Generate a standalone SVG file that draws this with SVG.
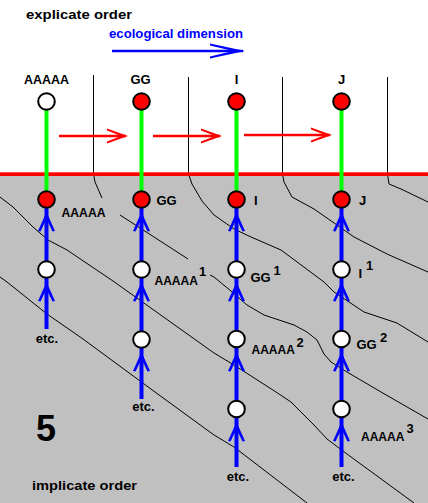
<svg xmlns="http://www.w3.org/2000/svg" width="428" height="503" viewBox="0 0 428 503">
<style>
.t{font-family:"Liberation Sans",Arial,Helvetica,sans-serif;font-weight:bold;font-size:13px;fill:#000}
.a{font-size:12px}
.c{stroke:#000;stroke-width:2}
.w{fill:#fff}
.r{fill:#ff0000}
.k{fill:none;stroke:#000;stroke-width:1}
.g{stroke:#00ff00;stroke-width:4}
.b{stroke:#0000ff;stroke-width:4}
.rs{stroke:#ff0000;stroke-width:2.5}
.bs{stroke:#0000ff;stroke-width:2.5}
</style>
<defs>
<path id="bh" d="M0,0 L8.5,19 L6,19.5 L0,7 L-6,19.5 L-8.5,19 Z" fill="#0000ff"/>
<path id="rh" d="M0,0 L-21,-7.5 L-21,-5.5 L-7,0 L-21,5.5 L-21,7.5 Z" fill="#ff0000"/>
<path id="bt" d="M0,0 L-35,-7.5 L-35,-5.5 L-12,0 L-35,5.5 L-35,7.5 Z" fill="#0000ff"/>
</defs>

<rect x="0" y="0" width="428" height="503" fill="#fff"/>
<rect x="0" y="174" width="428" height="329" fill="#c0c0c0"/>

<g id="contours">
<path class="k" d="M93.5,75 V174 L95,182 L102,198"/>
<path class="k" d="M120,215 L188,259"/>
<path class="k" d="M210,275 L214,277 L231,291 L247,305 L264,315 L294,325 L307,332 L317,340 L324,354 L331,362 L347,372 L381,392 L428,419"/>
<path class="k" d="M188.5,77 V174 L192,184 L202,201 L214,215 L234,229 L251,237 L281,250 L324,282 L334,292 L364,312 L397,323 L428,342"/>
<path class="k" d="M282.5,77 V174 L284,182 L292,197 L314,209 L337,225 L354,237 L387,254 L428,272"/>
<path class="k" d="M387.5,77 V174 L389,184 L401,189 L428,202"/>
<path class="k" d="M0,197 L13,207 L33,227 L48,240 L67,250 L113,281 L214,353 L234,365 L276,392 L291,402 L314,425 L327,439 L347,454 L414,503"/>
<path class="k" d="M0,277 L7,282 L47,314 L83,339 L155,392 L214,435 L234,447 L307,503"/>
</g>

<rect x="0" y="172.3" width="428" height="3.7" fill="#ff0000"/>

<g id="labels">
<text class="t" x="26" y="19" font-size="14" textLength="106" lengthAdjust="spacingAndGlyphs">explicate order</text>
<text class="t" x="109" y="38" style="fill:#0000ff" textLength="134" lengthAdjust="spacingAndGlyphs">ecological dimension</text>
<text class="t" x="36" y="441" style="font-size:36px">5</text>
<text class="t" x="32" y="490" font-size="14" textLength="105" lengthAdjust="spacingAndGlyphs">implicate order</text>
</g>

<g id="connectors">
<line class="g" x1="46.5" y1="101.5" x2="46.5" y2="199.5"/>
<line class="g" x1="141.5" y1="101.5" x2="141.5" y2="199.5"/>
<line class="g" x1="236.5" y1="101.5" x2="236.5" y2="199.5"/>
<line class="g" x1="341.5" y1="101.5" x2="341.5" y2="199.5"/>
<line class="b" x1="46.5" y1="199.5" x2="46.5" y2="329"/>
<line class="b" x1="141.5" y1="199.5" x2="141.5" y2="399"/>
<line class="b" x1="236.5" y1="199.5" x2="236.5" y2="467"/>
<line class="b" x1="341.5" y1="199.5" x2="341.5" y2="467"/>
<use href="#bh" x="46.5" y="212"/>
<use href="#bh" x="46.5" y="282"/>
<use href="#bh" x="141.5" y="212"/>
<use href="#bh" x="141.5" y="282"/>
<use href="#bh" x="141.5" y="352"/>
<use href="#bh" x="236.5" y="212"/>
<use href="#bh" x="236.5" y="282"/>
<use href="#bh" x="236.5" y="352"/>
<use href="#bh" x="236.5" y="422"/>
<use href="#bh" x="341.5" y="212"/>
<use href="#bh" x="341.5" y="282"/>
<use href="#bh" x="341.5" y="352"/>
<use href="#bh" x="341.5" y="422"/>
<line class="rs" x1="59" y1="136" x2="126" y2="136"/>
<use href="#rh" x="128" y="136"/>
<line class="rs" x1="153" y1="136" x2="220" y2="136"/>
<use href="#rh" x="222" y="136"/>
<line class="rs" x1="244" y1="135" x2="330" y2="135"/>
<use href="#rh" x="332" y="135"/>
<line class="bs" x1="112" y1="51" x2="243" y2="51"/>
<use href="#bt" x="245" y="51"/>
</g>

<g id="n-top-AAAAA"><circle class="c w" cx="46.5" cy="101.5" r="8.3"/><text class="t" x="46.5" y="84" text-anchor="middle" textLength="45" lengthAdjust="spacingAndGlyphs">AAAAA</text></g>
<g id="n-top-GG"><circle class="c r" cx="141.5" cy="101.5" r="8.3"/><text class="t" x="140.5" y="84" text-anchor="middle">GG</text></g>
<g id="n-top-I"><circle class="c r" cx="236.5" cy="101.5" r="8.3"/><text class="t" x="236.5" y="84" text-anchor="middle">I</text></g>
<g id="n-top-J"><circle class="c r" cx="341.5" cy="101.5" r="8.3"/><text class="t" x="341.5" y="84" text-anchor="middle">J</text></g>

<g id="n1-0"><circle class="c r" cx="46.5" cy="199.5" r="8.3"/><text class="t" x="61.5" y="217" textLength="44" lengthAdjust="spacingAndGlyphs">AAAAA</text></g>
<g id="n1-1"><circle class="c w" cx="46.5" cy="269.5" r="8.3"/></g>
<g id="n1-etc"><text class="t" x="47" y="342.5" text-anchor="middle">etc.</text></g>

<g id="n2-0"><circle class="c r" cx="141.5" cy="199.5" r="8.3"/><text class="t" x="156.5" y="204.5" font-size="14">GG</text></g>
<g id="n2-1"><circle class="c w" cx="141.5" cy="269.5" r="8.3"/><text class="t a" x="154.5" y="285">AAAAA</text><text class="t" x="199" y="276">1</text></g>
<g id="n2-2"><circle class="c w" cx="141.5" cy="339.5" r="8.3"/></g>
<g id="n2-etc"><text class="t" x="143.5" y="411" text-anchor="middle">etc.</text></g>

<g id="n3-0"><circle class="c r" cx="236.5" cy="199.5" r="8.3"/><text class="t" x="254" y="205">I</text></g>
<g id="n3-1"><circle class="c w" cx="236.5" cy="269.5" r="8.3"/><text class="t" x="250.5" y="282">GG</text><text class="t" x="273.5" y="275">1</text></g>
<g id="n3-2"><circle class="c w" cx="236.5" cy="339" r="8.3"/><text class="t a" x="251.5" y="354">AAAAA</text><text class="t" x="296.5" y="346.5">2</text></g>
<g id="n3-3"><circle class="c w" cx="236.5" cy="409" r="8.3"/></g>
<g id="n3-etc"><text class="t" x="238" y="481" text-anchor="middle">etc.</text></g>

<g id="n4-0"><circle class="c r" cx="341.5" cy="199.5" r="8.3"/><text class="t" x="359" y="205">J</text></g>
<g id="n4-1"><circle class="c w" cx="341.5" cy="269.5" r="8.3"/><text class="t" x="358.5" y="277.5">I</text><text class="t" x="366" y="269.5">1</text></g>
<g id="n4-2"><circle class="c w" cx="341.5" cy="339" r="8.3"/><text class="t" x="356.5" y="349">GG</text><text class="t" x="380" y="342">2</text></g>
<g id="n4-3"><circle class="c w" cx="341.5" cy="409" r="8.3"/><text class="t a" x="361" y="441">AAAAA</text><text class="t" x="406.5" y="433">3</text></g>
<g id="n4-etc"><text class="t" x="343.5" y="481" text-anchor="middle">etc.</text></g>
</svg>
